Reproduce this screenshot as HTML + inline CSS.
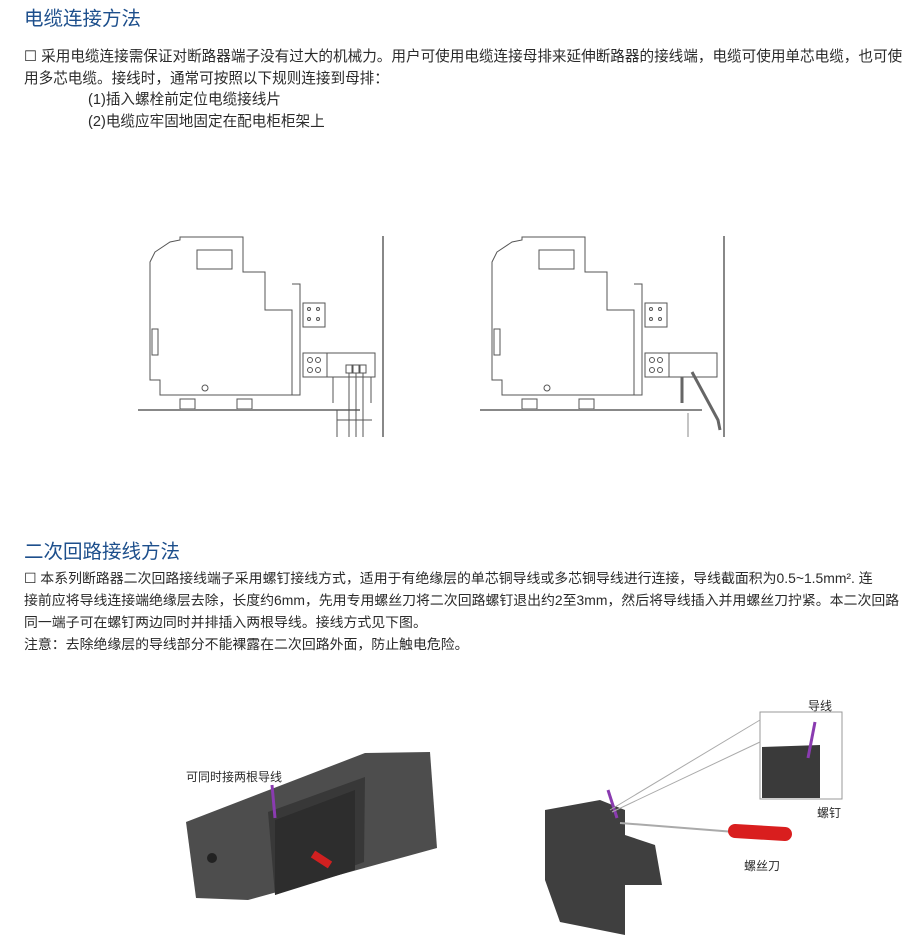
<!DOCTYPE html>
<html><head><meta charset="utf-8"><style>
body{margin:0;width:920px;height:951px;background:#fff;position:relative;overflow:hidden;font-family:"Liberation Sans","Noto Sans CJK SC",sans-serif;color:#2a2a2a}
.t{position:absolute;left:24px;font-size:19.5px;color:#1d4f8c;white-space:nowrap}
.p{position:absolute;left:24px;font-size:14.6px;white-space:nowrap;line-height:21.6px}
.l{position:absolute;font-size:12px;white-space:nowrap}
svg{position:absolute;left:0;top:0}
</style></head><body>
<div class="t" style="top:2px">电缆连接方法</div>
<div class="p" style="top:47px">☐ 采用电缆连接需保证对断路器端子没有过大的机械力。用户可使用电缆连接母排来延伸断路器的接线端，电缆可使用单芯电缆，也可使<br>用多芯电缆。接线时，通常可按照以下规则连接到母排：<br><span style="padding-left:64px">(1)插入螺栓前定位电缆接线片</span><br><span style="padding-left:64px">(2)电缆应牢固地固定在配电柜柜架上</span></div>
<div class="t" style="top:535px">二次回路接线方法</div>
<div class="p" style="top:567px;line-height:22px;font-size:13.9px">☐ 本系列断路器二次回路接线端子采用螺钉接线方式，适用于有绝缘层的单芯铜导线或多芯铜导线进行连接，导线截面积为0.5~1.5mm². 连<br>接前应将导线连接端绝缘层去除，长度约6mm，先用专用螺丝刀将二次回路螺钉退出约2至3mm，然后将导线插入并用螺丝刀拧紧。本二次回路<br>同一端子可在螺钉两边同时并排插入两根导线。接线方式见下图。<br>注意：去除绝缘层的导线部分不能裸露在二次回路外面，防止触电危险。</div>
<div class="l" style="left:186px;top:768px">可同时接两根导线</div>
<div class="l" style="left:808px;top:697px">导线</div>
<div class="l" style="left:817px;top:804px">螺钉</div>
<div class="l" style="left:744px;top:857px">螺丝刀</div>
<svg width="920" height="951" fill="none" stroke="#555" stroke-width="1">
<g id="cb">
<path d="M155 252 L170 242 L180 240 L180 237 L243 237 L243 272 L265 272 L265 310 L292 310 L292 395 L160 395 L160 380 L150 380 L150 262 Z" fill="#fff"/>
<rect x="197" y="250" width="35" height="19"/>
<rect x="152" y="329" width="6" height="26"/>
<path d="M265 272 L265 310 M292 284 L300 284 L300 395 L292 395"/>
<circle cx="205" cy="388" r="3"/>
<rect x="180" y="399" width="15" height="10"/><rect x="237" y="399" width="15" height="10"/>
<rect x="303" y="303" width="22" height="24"/>
<circle cx="309" cy="309" r="1.5"/><circle cx="318" cy="309" r="1.5"/><circle cx="309" cy="319" r="1.5"/><circle cx="318" cy="319" r="1.5"/>
<rect x="303" y="353" width="72" height="24"/>
<circle cx="310" cy="360" r="2.5"/><circle cx="318" cy="360" r="2.5"/><circle cx="310" cy="370" r="2.5"/><circle cx="318" cy="370" r="2.5"/>
<line x1="327" y1="353" x2="327" y2="377"/>
<path d="M138 410 L360 410" stroke="#888" stroke-width="2"/>
</g>
<path d="M333 377 L333 403 M371 377 L371 403"/>
<rect x="346" y="365" width="6" height="8"/><rect x="353" y="365" width="6" height="8"/><rect x="360" y="365" width="6" height="8"/>
<path d="M349 373V437M356 373V437M363 373V437M337 410V437M337 420H372" />
<path d="M383 236V437" stroke="#888" stroke-width="2"/>
<use href="#cb" x="342"/>
<path d="M682 377V403 M692 372 L718 420 L720 430" stroke-width="3" stroke="#666"/>
<path d="M724 236V437" stroke="#888" stroke-width="2"/>
<path d="M688 413V437" stroke="#888"/>
<g stroke="none">
<path d="M186 822 L365 753 L430 752 L437 848 L248 900 L196 898 Z" fill="#4d4d4d"/>
<path d="M268 812 L365 777 L364 862 L275 895 Z" fill="#383838"/>
<path d="M275 820 L355 790 L355 870 L275 895 Z" fill="#2d2d2d"/>
<circle cx="212" cy="858" r="5" fill="#222"/>
<path d="M272 785 L275 818" stroke="#8a3bb0" stroke-width="3" fill="none"/>
<path d="M313 854 L330 865" stroke="#d02020" stroke-width="8"/>
<path d="M545 810 L600 800 L625 810 L625 835 L655 845 L662 885 L625 885 L625 935 L560 922 L545 880 Z" fill="#3f3f3f"/>
<path d="M608 790 L617 818" stroke="#8a3bb0" stroke-width="3"/>
<path d="M620 823 L735 832" stroke="#aaa" stroke-width="2"/>
<path d="M735 831 L785 834" stroke="#d91e1e" stroke-width="14" stroke-linecap="round"/>
<path d="M762 747 L820 745 L820 798 L762 798 Z" fill="#3a3a3a"/>
<path d="M815 722 L808 758" stroke="#8a3bb0" stroke-width="3"/>
</g>
<rect x="760" y="712" width="82" height="87" stroke="#999"/>
<path d="M610 810 L760 720 M612 812 L760 742" stroke="#aaa"/>
</svg>
</body></html>
